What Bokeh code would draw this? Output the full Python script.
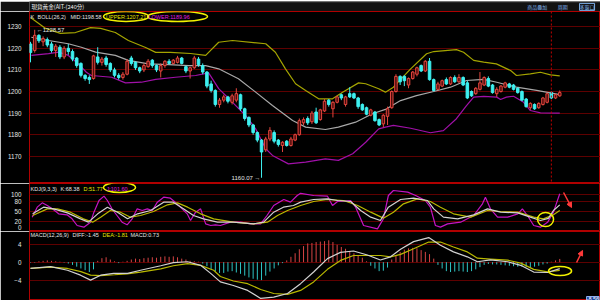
from bokeh.plotting import figure
from bokeh.layouts import column
from bokeh.models import (ColumnDataSource, Range1d, FixedTicker, Span, Label,
                          Arrow, NormalHead, BoxAnnotation)
from bokeh.embed import file_html
from bokeh.resources import INLINE

# ---------------- data ----------------
opens = [1222, 1219, 1226, 1223, 1224, 1222, 1219, 1220.5, 1216, 1220,
         1218.5, 1215.5, 1213, 1207.5, 1206.5, 1206, 1216, 1213.5, 1215.5, 1213,
         1210, 1207.5, 1206.5, 1208, 1215.5, 1213.5, 1211, 1210, 1211.5, 1214.5,
         1212, 1209.5, 1212, 1214, 1213, 1213.5, 1215.5, 1211.5, 1209.5, 1211,
         1215, 1212, 1209, 1203.5, 1200.5, 1194, 1196, 1197.5, 1195, 1196,
         1198.5, 1192, 1188, 1184.5, 1181, 1177.5, 1173, 1178, 1181, 1177.5,
         1175, 1177, 1175, 1177.5, 1180, 1185.5, 1187.5, 1186, 1190.5, 1187,
         1191, 1196, 1192, 1195, 1198.5, 1194, 1199, 1199, 1197, 1194,
         1192.5, 1189, 1190.5, 1187, 1185, 1188.5, 1192.5, 1200, 1207, 1207,
         1203, 1206, 1208, 1212, 1209.5, 1214, 1205.5, 1201, 1202.5, 1205.5,
         1203.5, 1206.5, 1204.5, 1206.5, 1204, 1200, 1199, 1201, 1203, 1206,
         1203, 1199, 1200, 1202, 1203.5, 1203, 1201.5, 1200, 1196.5, 1192.5,
         1194, 1192.5, 1194, 1195, 1199.5, 1197, 1198]
closes = [1218, 1226, 1223.5, 1224.5, 1221.5, 1219, 1221, 1216, 1220, 1218.5,
          1215, 1212, 1207.5, 1206, 1205.5, 1216.5, 1213.5, 1215, 1212.5, 1210,
          1207.5, 1206.5, 1208, 1214, 1213, 1211, 1209.5, 1212, 1214, 1212,
          1210, 1212, 1214, 1213, 1214.5, 1215.5, 1213, 1209.5, 1211, 1215.5,
          1212.5, 1209, 1202.5, 1200.5, 1194, 1196, 1197.5, 1195.5, 1198, 1199,
          1192, 1187.5, 1184.5, 1181, 1177.5, 1172, 1178, 1182, 1177, 1175.5,
          1176.5, 1175, 1178, 1180, 1186.5, 1187, 1185.5, 1190, 1185.5, 1191.5,
          1195.5, 1194, 1195, 1197.5, 1197, 1197.5, 1197.5, 1197, 1193, 1191.5,
          1189.5, 1191.5, 1186.5, 1184.5, 1189, 1192, 1200, 1207, 1204.5, 1205,
          1206, 1209, 1211, 1209.5, 1214, 1205.5, 1200.5, 1203.5, 1205, 1203.5,
          1206.5, 1204.5, 1206.5, 1203, 1197, 1198, 1201.5, 1204, 1206.5, 1202.5,
          1199.5, 1201, 1202.5, 1204, 1202, 1201, 1199.5, 1196, 1193, 1194.5,
          1192, 1194.5, 1197, 1199, 1197, 1198.5, 1199.5]
highs = [1223, 1228.57, 1226.5, 1225.5, 1225, 1223, 1222, 1221.5, 1221, 1222,
         1219.5, 1216, 1213.5, 1208, 1207.5, 1217, 1220.5, 1216, 1216.5, 1213.5,
         1211, 1208.5, 1209, 1215, 1216.5, 1214, 1211.5, 1213, 1215, 1215,
         1212.5, 1213, 1214.5, 1215, 1215, 1216.5, 1216, 1212, 1211.5, 1216.5,
         1216, 1213, 1209.5, 1205, 1201, 1197, 1198.5, 1198, 1199, 1201.5,
         1199, 1192.5, 1188.5, 1185, 1181.5, 1178, 1179, 1183.5, 1182, 1178,
         1177, 1177.5, 1179, 1180.5, 1187.5, 1188, 1188.5, 1191, 1192.5, 1192,
         1196.5, 1196.5, 1195.5, 1198, 1199, 1198, 1202, 1199.5, 1197.5, 1194.5,
         1193, 1192, 1191, 1187.5, 1189.5, 1193, 1200.5, 1208, 1207.5, 1207.5,
         1206.5, 1209.5, 1211.5, 1212.5, 1214.5, 1215.5, 1206, 1204.5, 1205.5, 1206.5,
         1207, 1207.5, 1208, 1207, 1205, 1200.5, 1202, 1209, 1207, 1207,
         1203.5, 1202, 1203, 1204.5, 1204, 1203.5, 1202, 1200.5, 1197, 1195,
         1194.5, 1195, 1197.5, 1199.5, 1200, 1199, 1200.5]
lows = [1213.5, 1218, 1222.5, 1221, 1220.5, 1218, 1216, 1215, 1215, 1217,
        1214, 1211, 1206.5, 1205, 1203.5, 1205.5, 1212.5, 1212, 1211.5, 1209,
        1206.5, 1205.5, 1205.5, 1207.5, 1212, 1210, 1208.5, 1209, 1211, 1211,
        1209, 1206.5, 1211, 1212.5, 1212.5, 1213, 1212.5, 1208.5, 1206, 1210.5,
        1211.5, 1208, 1201.5, 1199.5, 1193, 1192.5, 1195, 1194.5, 1194, 1195,
        1191, 1186.5, 1183.5, 1180, 1176.5, 1160.07, 1172, 1177, 1176, 1174.5,
        1172, 1174.5, 1174.5, 1177, 1179.5, 1184.5, 1184.5, 1185, 1185, 1186.5,
        1190.5, 1193, 1188, 1194.5, 1196, 1193, 1197, 1196.5, 1192, 1191,
        1189, 1188.5, 1186, 1184, 1183.5, 1184.5, 1192, 1199.5, 1203, 1202.5,
        1201.5, 1205.5, 1207, 1209, 1209, 1205, 1200, 1200.5, 1202, 1203,
        1203, 1204, 1204, 1202.5, 1196.5, 1197.5, 1198.5, 1200.5, 1202.5, 1202,
        1199, 1197.5, 1199.5, 1201.5, 1201.5, 1200.5, 1199, 1195.5, 1192.5, 1191.5,
        1191.5, 1192, 1193.5, 1194.5, 1196.5, 1196.5, 1197.5]

upper_idx = [0, 3.6, 7.1, 10.7, 14.3, 16.7, 20.2, 23.3, 27.4, 29.8, 33.3, 38.1, 41.7, 44.8,
             48.1, 56, 58.3, 60.7, 63.1, 65.5, 68.6, 71.9, 74.3, 78.1, 79.8, 82.9, 84.5,
             86.4, 90.5, 94.3, 96, 101.4, 103.1, 105.5, 107.9, 110.9, 114.3, 115.7, 119,
             121.4, 123.8, 126]
upper_val = [1234.3, 1229.2, 1226.9, 1227.3, 1229.6, 1229.2, 1227.3, 1223.6, 1220.4, 1218.1,
             1218.1, 1217.6, 1216.7, 1222.8, 1223.6, 1222.1, 1218.2, 1210.5, 1203.6, 1200.5,
             1196.6, 1196.6, 1199.7, 1204.0, 1203.6, 1201.3, 1199.7, 1202.0, 1210.5, 1217.5,
             1218.5, 1219.4, 1218.2, 1214.4, 1213.6, 1212.8, 1209.7, 1207.4, 1208.2, 1208.9,
             1207.7, 1207.21]
mid_idx = [0.2, 4.3, 9, 12.1, 15.5, 20.2, 23.3, 28.1, 32.9, 37.6, 41.7, 44.8, 49.5, 53.6,
           57.6, 62.4, 65.5, 70.2, 73.3, 77.4, 81.4, 84.5, 88.1, 91.9, 96, 100, 103.8,
           107.9, 111, 115.7, 120.5, 126]
mid_val = [1225.1, 1223.6, 1222.1, 1220.5, 1218.2, 1216.7, 1214.4, 1212.8, 1212.4, 1212.0,
           1212.0, 1210.5, 1205.9, 1199.7, 1193.5, 1186.6, 1183.5, 1182.4, 1183.5, 1185.8,
           1189.7, 1191.7, 1195.8, 1198.1, 1200.0, 1202.0, 1205.1, 1205.6, 1204.3, 1202.0,
           1200.5, 1198.58]
lower_idx = [0.2, 4.3, 6.7, 9, 11.4, 13.3, 14.5, 19.3, 22.6, 26.4, 29.8, 34.5, 39.3, 42.4,
             44.8, 48.1, 51.2, 53.6, 56, 57.6, 61.4, 65.5, 70.2, 73.3, 76.7, 79.8, 82.9,
             84.5, 86.4, 90.5, 95.2, 98.3, 101.4, 103.8, 105.5, 107.9, 111, 111.9, 113.3,
             115, 117.4, 119, 121.4, 126]
lower_val = [1216.7, 1217.5, 1218.2, 1216.7, 1212.8, 1208.9, 1207.4, 1206.6, 1204.0, 1204.3,
             1205.6, 1206.6, 1207.4, 1208.6, 1201.3, 1195.0, 1188.9, 1182.7, 1173.5, 1170.4,
             1166.5, 1167.3, 1168.8, 1168.1, 1171.2, 1176.5, 1182.7, 1183.5, 1184.3, 1183.0,
             1180.9, 1181.9, 1187.4, 1193.5, 1197.4, 1197.7, 1197.4, 1196.3, 1197.4, 1197.8,
             1195.0, 1191.2, 1190.1, 1189.96]

k_idx = [0.5, 3.1, 5.5, 8.8, 11.9, 13.8, 16.0, 18.3, 20.7, 23.1, 25.5, 28.6, 31.7, 34.0,
         36.4, 38.8, 41.2, 44.5, 48.3, 53.1, 55.5, 57.9, 60.2, 62.6, 64.3, 67.4, 70.7,
         73.1, 76.2, 78.6, 81.0, 83.3, 85.2, 88.1, 91.2, 94.5, 96.0, 98.3, 101.7, 105.5,
         108.8, 111.9, 116.0, 119.0, 121.4, 123.3, 124.5, 126.0]
k_val = [41.5, 61.5, 56.5, 44.5, 26.5, 16.5, 41.5, 61.5, 46.5, 26.5, 41.5, 51.5, 76.5, 76.5,
         56.5, 36.5, 26.5, 16.5, 16.5, 11.5, 16.5, 46.5, 61.5, 66.5, 76.5, 84.5, 86.5,
         81.5, 78.5, 51.5, 31.5, 21.5, 61.5, 84.5, 88.5, 81.5, 56.5, 31.5, 26.5, 38.5,
         56.5, 46.5, 44.5, 31.5, 21.5, 28.0, 51.5, 68.38]
d_idx = [0.5, 4.0, 6.4, 9.5, 12.6, 14.8, 16.7, 19.0, 21.4, 23.8, 26.2, 29.3, 32.6, 35.0,
         37.4, 40.5, 43.6, 48.3, 53.1, 56.4, 58.8, 61.2, 64.3, 67.4, 70.7, 74.5, 77.9,
         81.0, 84.0, 86.4, 88.8, 92.1, 95.2, 97.6, 100.7, 104.8, 108.8, 111.9, 116.0,
         119.8, 122.1, 124.5, 126.0]
d_val = [36.5, 56.5, 56.5, 46.5, 26.5, 16.5, 31.5, 51.5, 46.5, 31.5, 36.5, 48.5, 68.5, 74.5,
         61.5, 41.5, 26.5, 16.5, 11.5, 16.5, 36.5, 51.5, 66.5, 78.5, 84.5, 81.5, 66.5,
         46.5, 28.5, 46.5, 71.5, 86.5, 78.5, 61.5, 41.5, 31.5, 51.5, 48.5, 46.5, 31.5,
         26.5, 38.5, 51.77]
j_idx = [0.4, 1.6, 2.8, 4.0, 5.2, 6.7, 8.7, 9.9, 11.1, 12.7, 14.3, 15.1, 16.3, 17.5, 18.3,
         19.4, 20.6, 21.8, 23.0, 24.2, 25.4, 26.6, 27.8, 29.0, 30.2, 31.7, 33.3, 34.9, 36.1,
         37.3, 38.1, 39.3, 40.5, 41.7, 42.9, 44.0, 45.2, 47.6, 50.0, 52.4, 54.8, 56.3, 57.9,
         60.3, 61.9, 63.5, 64.3, 67.4, 70.7, 71.9, 73.1, 76.2, 77.4, 79.3, 82.6, 84.0, 85.2,
         86.4, 89.8, 91.7, 94.0, 95.2, 96.4, 97.6, 99.3, 102.4, 104.0, 105.5, 107.6, 108.3,
         109.5, 111.2, 113.6, 116.0, 117.1, 118.3, 119.8, 121.4, 123.1, 124.5, 126.0]
j_val = [31.5, 61.5, 74.5, 66.5, 56.5, 41.5, 38.5, 26.5, 6.5, 1.5, 16.5, 46.5, 81.5, 94.5,
         81.5, 56.5, 36.5, 16.5, 8.5, 26.5, 56.5, 51.5, 56.5, 51.5, 76.5, 91.5, 88.5, 71.5,
         56.5, 41.5, 21.5, 46.5, 56.5, 11.5, 6.5, 8.5, 6.5, 16.5, 16.5, 11.5, 11.5, 36.5,
         66.5, 84.5, 76.5, 96.5, 103.0, 96.5, 94.5, 66.5, 78.5, 81.5, 61.5, 6.5, -3.5, 26.5,
         96.5, 111.5, 106.5, 96.5, 81.5, 61.5, 6.5, 1.5, 11.5, 16.5, 26.5, 36.5, 71.5, 91.5,
         56.5, 31.5, 31.5, 41.5, 56.5, 36.5, 6.5, 1.5, 16.0, 46.5, 101.6]

diff_idx = [0, 4.8, 8.8, 11.9, 14.3, 16.7, 19.8, 23.1, 26.2, 31.0, 34.0, 37.4, 40.5, 42.9,
            45.2, 48.3, 51.7, 54.8, 57.9, 61.2, 64.3, 67.4, 70.7, 73.8, 76.9, 80.2, 83.3,
            85.7, 88.1, 91.2, 94.8, 97.6, 100.7, 104.0, 106.4, 109.5, 113.6, 116.7, 119.8,
            123.1, 126]
diff_val = [-1.4, -1.0, -1.8, -2.9, -4.0, -2.9, -2.5, -2.5, -1.8, -0.8, -0.1, 0.1, -0.7, -2.5,
            -4.4, -5.2, -6.3, -8.1, -7.8, -7.0, -4.8, -2.2, 0.8, 2.2, 2.5, 1.6, 0.5,
            1.2, 2.9, 4.6, 5.5, 3.8, 2.3, 1.2, 0.1, 0.5, 0.1, -0.7, -2.2, -2.3, -1.45]
dea_idx = [0, 4.8, 8.8, 12.0, 14.3, 16.7, 20.0, 23.0, 26.2, 31.0, 34.0, 37.4, 40.5, 43.6,
           45.2, 48.3, 51.7, 54.8, 57.9, 61.2, 64.3, 67.4, 70.7, 73.8, 76.9, 80.2, 83.3,
           85.7, 88.1, 91.2, 94.8, 97.6, 100.7, 104.0, 106.4, 109.5, 113.6, 116.7, 119.8,
           123.1, 126]
dea_val = [-1.4, -1.1, -1.4, -2.1, -2.9, -3.0, -2.8, -2.6, -2.2, -1.5, -0.8, -0.3, -0.7, -1.8,
           -3.2, -4.2, -4.8, -6.1, -7.0, -7.2, -6.3, -4.4, -1.6, 0.4, 1.5, 1.5, 1.5,
           1.2, 1.75, 3.0, 4.5, 4.5, 3.4, 2.3, 0.9, 0.7, 0.45, -0.2, -1.6, -2.15, -1.81]
macd_hist = [-0.1, -0.1, 0.2, 0.3, 0.4, 0.3, 0.2, 0.1, -0.1, -0.3,
             -0.6, -1.0, -1.4, -1.8, -2.2, -1.6, 0.3, 0.9, 1.1, 0.6,
             0.2, -0.2, 0.1, 0.3, 0.6, 0.8, 0.7, 0.9, 1.0, 1.1,
             1.0, 1.2, 1.3, 1.2, 1.3, 1.1, 0.8, 0.6, 0.3, 0.2,
             0.1, -0.3, -0.9, -1.5, -2.1, -2.4, -2.4, -2.1, -2.0, -2.3,
             -2.6, -3.0, -3.4, -3.7, -3.9, -4.0, -3.0, -2.1, -1.4, -0.7,
             -0.2, 0.4, 1.2, 2.0, 2.9, 3.6, 4.2, 4.3, 4.5, 4.6,
             4.7, 4.9, 4.5, 3.9, 3.4, 3.0, 2.5, 2.0, 1.5, 1.0,
             0.2, -0.8, -1.4, -2.0, -1.9, -1.2, 0.6, 1.6, 2.3, 2.8,
             3.1, 3.2, 3.1, 2.7, 2.3, 1.8, 0.8, -0.6, -1.4, -2.0,
             -2.2, -2.1, -2.0, -2.1, -2.2, -2.0, -1.6, -1.1, -0.6, -0.4,
             -0.5, -0.5, -0.6, -0.7, -0.8, -0.9, -1.0, -1.0, -1.1, -1.2,
             -1.0, -0.8, -0.5, -0.3, 0.1, 0.4, 0.73]

price_ticks = [1170, 1180, 1190, 1200, 1210, 1220, 1230]
kdj_ticks = [0, 20, 50, 80, 100]
kdj_grid = [20, 50, 80, 100]
macd_ticks = [-4, 0, 4]
title_text = "現貨黃金(AIT-(240分)"

# ---------------- style ----------------
FONT = "Liberation Sans"
CJK = "Noto Sans CJK TC"
BG = "#000000"
GRID = "#5e0000"
BORDER = "#b00000"
TXT = "#e4e4e4"
YEL = "#e6e600"
MAG = "#e020e0"
UP_LINE = "#e4463e"
UP_FILL = "#4c0c0c"
DN = "#3ef0f0"
RED = "#ff3a3a"
ELL = "#f2f200"
HFS = "5.5px"
TOP_H = 11

n = len(closes)
idx = list(range(n))
up = [c >= o for o, c in zip(opens, closes)]
src = ColumnDataSource(dict(
    x=idx, h=highs, l=lows,
    top=[max(o, c) for o, c in zip(opens, closes)],
    bot=[min(o, c) for o, c in zip(opens, closes)],
    fill=[UP_FILL if u else DN for u in up],
    line=[UP_LINE if u else DN for u in up],
))
hsrc = ColumnDataSource(dict(
    x=idx, y0=[0] * n, y1=macd_hist,
    col=["#d84444" if v > 0 else "#2ec4c4" for v in macd_hist],
))

# pixel helpers for annotation placement only
def ix(px):
    return (px - 30) / 4.2

def py_main(py):
    return 1200 + (91 - py) / 2.16

def py_kdj(py):
    return 80 + (200.5 - py) * 3

def py_macd(py):
    return (261.7 - py) / 4.474

xr = Range1d(-0.24, 135.7)


def base(h, y0, y1, ticks, grid_ticks):
    p = figure(width=600, height=h, x_range=xr, y_range=Range1d(y0, y1),
               output_backend="svg", toolbar_location=None, x_axis_location=None,
               min_border_left=29, min_border_right=0, min_border_top=0,
               min_border_bottom=0, background_fill_color=BG, border_fill_color=BG,
               outline_line_color=BORDER, outline_line_width=1)
    p.xgrid.visible = False
    ax = p.yaxis[0]
    ax.ticker = FixedTicker(ticks=ticks)
    ax.axis_line_color = None
    ax.major_tick_line_color = None
    ax.minor_tick_line_color = None
    ax.major_label_text_color = TXT
    ax.major_label_text_font = FONT
    ax.major_label_text_font_size = "6.3px"
    ax.major_label_standoff = 2
    p.ygrid.ticker = FixedTicker(ticks=grid_ticks)
    p.ygrid.grid_line_color = GRID
    p.ygrid.grid_line_width = 1
    return p


def lab(p, x, y, text, color=TXT, size=HFS, align="left", font=FONT, **kw):
    p.add_layout(Label(x=x, y=y, text=text, text_color=color, text_font=font,
                       text_font_size=size, text_align=align,
                       text_baseline="middle", **kw))

# ---------------- title bar ----------------
p0 = figure(width=600, height=TOP_H, x_range=Range1d(0, 600), y_range=Range1d(0, TOP_H),
            output_backend="svg", toolbar_location=None, x_axis_location=None,
            y_axis_location=None, min_border=0, background_fill_color="#121212",
            border_fill_color="#121212", outline_line_color=None)
p0.grid.visible = False
p0.add_layout(Span(location=0.5, dimension="width", line_color=BORDER, line_width=1))
p0.add_layout(Span(location=TOP_H - 0.3, dimension="width", line_color="#505050", line_width=1))
lab(p0, 2, 5.6, title_text, color="#eeeeee", size="5.6px", font=CJK)
lab(p0, 523, 5.6, "商品疊加", color="#7fb0ea", size="5px", font=CJK)
lab(p0, 555, 5.6, "周期", color="#7fb0ea", size="5px", font=CJK)
lab(p0, 578, 5.6, "多窗口", color="#7fb0ea", size="5px", font=CJK,
    border_line_color="#7fb0ea")

# ---------------- main panel ----------------
p1 = base(183 - TOP_H, 1157.41, py_main(TOP_H), price_ticks, price_ticks)
p1.line(upper_idx, upper_val, line_color="#a4a400", line_width=1.2)
p1.line(mid_idx, mid_val, line_color="#a8a8a8", line_width=1.2)
p1.line(lower_idx, lower_val, line_color="#a010a8", line_width=1.2)
p1.segment(x0="x", y0="l", x1="x", y1="h", source=src, line_color="line", line_width=1)
p1.vbar(x="x", width=0.6, top="top", bottom="bot", source=src,
        fill_color="fill", line_color="line", line_width=1)
p1.add_layout(Span(location=124, dimension="height", line_color="#c00000",
                   line_dash="2 2", line_width=1))
hy = py_main(16)
lab(p1, ix(30), hy, "K")
lab(p1, ix(37), hy, "BOLL(26,2)")
lab(p1, ix(70), hy, "MID:1198.58")
lab(p1, ix(105.5), hy, "UPPER:1207.21", color=YEL)
lab(p1, ix(148), hy, "LOWER:1189.96", color=MAG)
p1.ellipse(x=[ix(125.5), ix(177)], y=[hy, hy], width=[45, 60], height=[10, 10],
           width_units="screen", height_units="screen", fill_color=None,
           line_color=ELL, line_width=1.5)
lab(p1, 1, 1228.57, "←1228.57", size="6px", x_offset=2)
lab(p1, 55, 1160.07, "1160.07 →", size="6px", align="right", x_offset=-1)

# ---------------- KDJ panel ----------------
p2 = base(48, -11.5, 132.5, kdj_ticks, kdj_grid)
p2.line(j_idx, j_val, line_color="#c414c4", line_width=1.2)
p2.line(d_idx, d_val, line_color="#b8b800", line_width=1.2)
p2.line(k_idx, k_val, line_color="#d2d2d2", line_width=1.2)
ky = py_kdj(188)
lab(p2, ix(30), ky, "KDJ(9,3,3)")
lab(p2, ix(60), ky, "K:68.38")
lab(p2, ix(83), ky, "D:51.77", color=YEL)
lab(p2, ix(106), ky, "J:101.60", color=MAG)
p2.ellipse(x=[ix(119), ix(545)], y=[py_kdj(187), py_kdj(219)], width=[32, 16],
           height=[10, 14], width_units="screen", height_units="screen",
           fill_color=None, line_color=ELL, line_width=1.5)
p2.add_layout(Arrow(end=NormalHead(size=5, fill_color=RED, line_color=RED),
                    x_start=ix(563), y_start=py_kdj(192), x_end=ix(571), y_end=py_kdj(207),
                    line_color=RED, line_width=1.5))
try:
    box = BoxAnnotation(left=0.5, right=28.5, top=0.5, bottom=47.5,
                        left_units="canvas", right_units="canvas",
                        top_units="canvas", bottom_units="canvas",
                        fill_alpha=0, line_color=BORDER, line_width=1)
except Exception:
    box = BoxAnnotation(left=-28.5, right=-0.5, top=47.5, bottom=0.5,
                        left_units="screen", right_units="screen",
                        top_units="screen", bottom_units="screen",
                        fill_alpha=0, line_color=BORDER, line_width=1)
p2.add_layout(box)

# ---------------- MACD panel ----------------
p3 = base(69, -8.56, 6.86, macd_ticks, macd_ticks)
p3.segment(x0="x", y0="y0", x1="x", y1="y1", source=hsrc, line_color="col", line_width=1)
p3.line(dea_idx, dea_val, line_color="#b8b800", line_width=1.2)
p3.line(diff_idx, diff_val, line_color="#d2d2d2", line_width=1.2)
my = py_macd(235)
lab(p3, ix(30), my, "MACD(12,26,9)")
lab(p3, ix(72), my, "DIFF:-1.45")
lab(p3, ix(102), my, "DEA:-1.81", color=YEL)
lab(p3, ix(130), my, "MACD:0.73")
p3.ellipse(x=[ix(559.5)], y=[py_macd(270.5)], width=[23], height=[9],
           width_units="screen", height_units="screen", fill_color=None,
           line_color=ELL, line_width=1.5)
p3.add_layout(Arrow(end=NormalHead(size=5, fill_color=RED, line_color=RED),
                    x_start=ix(576), y_start=py_macd(262), x_end=ix(582), y_end=py_macd(250),
                    line_color=RED, line_width=1.5))
p3.add_layout(Label(x=ix(586), y=-8.56, text="-8.56", text_color="#ffffff",
                    text_font=FONT, text_font_size="5.5px", text_baseline="bottom",
                    background_fill_color="#1e46a0", border_line_color="#8fb0f0"))

layout = column(p0, p1, p2, p3, spacing=0)
open("out.html", "w").write(file_html(layout, INLINE))
